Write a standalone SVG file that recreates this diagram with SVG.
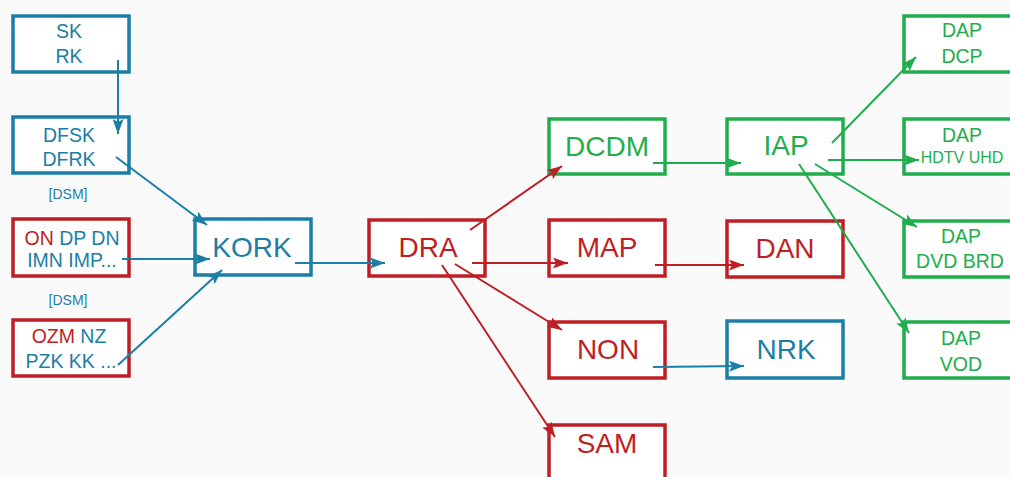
<svg xmlns="http://www.w3.org/2000/svg" width="1010" height="477" viewBox="0 0 1010 477">
<defs>
<style>
.box{fill:#fff;stroke-width:3.5}
.b{stroke:#1b7ea6}.r{stroke:#bf1e24}.g{stroke:#1fae4b}
.tb{fill:#1b7ea6}.tr{fill:#bf1e24}.tg{fill:#1fae4b}
text{font-family:"Liberation Sans",Arial,sans-serif;text-anchor:middle}
.big{font-size:28px}.sm{font-size:19.5px}.xs{font-size:14px}.hd{font-size:16px}
.lb{stroke:#1b7ea6;stroke-width:2;fill:none;marker-end:url(#ab)}
.lr{stroke:#bf1e24;stroke-width:2;fill:none;marker-end:url(#ar)}
.lg{stroke:#1fae4b;stroke-width:2;fill:none;marker-end:url(#ag)}
</style>
<marker id="ab" markerUnits="userSpaceOnUse" markerWidth="15" markerHeight="11" refX="15" refY="5.5" orient="auto"><path d="M0,0 L15,5.5 L0,11 L3,5.5 z" fill="#1b7ea6"/></marker>
<marker id="ar" markerUnits="userSpaceOnUse" markerWidth="15" markerHeight="11" refX="15" refY="5.5" orient="auto"><path d="M0,0 L15,5.5 L0,11 L3,5.5 z" fill="#bf1e24"/></marker>
<marker id="ag" markerUnits="userSpaceOnUse" markerWidth="15" markerHeight="11" refX="15" refY="5.5" orient="auto"><path d="M0,0 L15,5.5 L0,11 L3,5.5 z" fill="#1fae4b"/></marker>
</defs>
<rect width="1010" height="477" fill="#fafafa"/>
<g id="n-sk"><rect class="box b" x="13" y="16" width="116" height="56"/><text class="sm tb" x="69" y="38">SK</text><text class="sm tb" x="69" y="63">RK</text></g>
<g id="n-dfsk"><rect class="box b" x="13" y="117" width="116" height="56"/><text class="sm tb" x="69" y="142">DFSK</text><text class="sm tb" x="69" y="166">DFRK</text></g>
<g id="l-dsm1"><text class="xs tb" x="68" y="199">[DSM]</text></g>
<g id="n-on"><rect class="box r" x="13" y="219" width="116" height="57"/><text class="sm" x="72" y="245"><tspan class="tr">ON</tspan><tspan class="tb"> DP DN</tspan></text><text class="sm tb" x="72" y="267">IMN IMP...</text></g>
<g id="l-dsm2"><text class="xs tb" x="68" y="305">[DSM]</text></g>
<g id="n-ozm"><rect class="box r" x="13" y="320" width="116" height="56"/><text class="sm" x="69" y="343"><tspan class="tr">OZM</tspan><tspan class="tb"> NZ</tspan></text><text class="sm tb" x="71" y="368">PZK KK ...</text></g>
<g id="n-kork"><rect class="box b" x="195" y="219" width="116" height="56"/><text class="big tb" x="252" y="257">KORK</text></g>
<g id="n-dra"><rect class="box r" x="369" y="220" width="116" height="56"/><text class="big tr" x="428" y="257">DRA</text></g>
<g id="n-dcdm"><rect class="box g" x="549" y="119" width="116" height="55"/><text class="big tg" x="607" y="156">DCDM</text></g>
<g id="n-map"><rect class="box r" x="549" y="220" width="116" height="56"/><text class="big tr" x="607" y="257">MAP</text></g>
<g id="n-non"><rect class="box r" x="549" y="322" width="116" height="56"/><text class="big tr" x="608" y="359">NON</text></g>
<g id="n-sam"><rect class="box r" x="549" y="425" width="116" height="60"/><text class="big tr" x="607" y="453">SAM</text></g>
<g id="n-iap"><rect class="box g" x="727" y="119" width="116" height="55"/><text class="big tg" x="786" y="155">IAP</text></g>
<g id="n-dan"><rect class="box r" x="727" y="221" width="116" height="56"/><text class="big tr" x="785" y="258">DAN</text></g>
<g id="n-nrk"><rect class="box b" x="727" y="321" width="116" height="57"/><text class="big tb" x="786" y="359">NRK</text></g>
<g id="n-dcp"><rect class="box g" x="904" y="16" width="116" height="56"/><text class="sm tg" x="962" y="37">DAP</text><text class="sm tg" x="962" y="63">DCP</text></g>
<g id="n-hdtv"><rect class="box g" x="904" y="119" width="116" height="55"/><text class="sm tg" x="962" y="142">DAP</text><text class="hd tg" x="962" y="163">HDTV UHD</text></g>
<g id="n-dvd"><rect class="box g" x="904" y="221" width="116" height="56"/><text class="sm tg" x="961" y="243">DAP</text><text class="sm tg" x="960" y="268">DVD BRD</text></g>
<g id="n-vod"><rect class="box g" x="904" y="322" width="116" height="56"/><text class="sm tg" x="961" y="345">DAP</text><text class="sm tg" x="961" y="371">VOD</text></g>
<g id="connectors">
<line class="lb" x1="118" y1="60" x2="118" y2="134"/>
<line class="lb" x1="116" y1="157" x2="207" y2="225"/>
<line class="lb" x1="122" y1="259" x2="210" y2="259"/>
<line class="lb" x1="118" y1="365" x2="222" y2="270"/>
<line class="lb" x1="295" y1="263" x2="385" y2="263"/>
<line class="lr" x1="470" y1="230" x2="562" y2="166"/>
<line class="lr" x1="472" y1="263" x2="568" y2="263"/>
<line class="lr" x1="455" y1="264" x2="562" y2="330"/>
<line class="lr" x1="442" y1="265" x2="555" y2="437"/>
<line class="lg" x1="653" y1="163" x2="741" y2="163"/>
<line class="lr" x1="655" y1="265" x2="744" y2="265"/>
<line class="lb" x1="653" y1="367" x2="744" y2="366"/>
<line class="lg" x1="832" y1="143" x2="916" y2="57"/>
<line class="lg" x1="828" y1="160" x2="919" y2="160"/>
<line class="lg" x1="815" y1="164" x2="917" y2="227"/>
<line class="lg" x1="799" y1="164" x2="909" y2="333"/>
</g>
</svg>
